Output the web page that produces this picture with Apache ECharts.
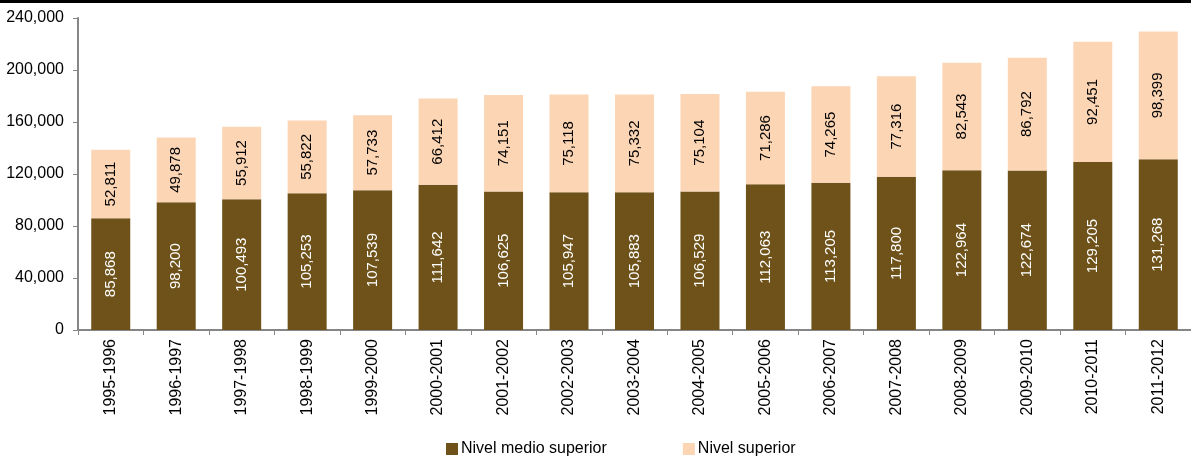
<!DOCTYPE html>
<html><head><meta charset="utf-8">
<script src="https://cdn.jsdelivr.net/npm/echarts@6/dist/echarts.min.js"></script>
<style>html,body{margin:0;padding:0;background:#fff}#c{width:1191px;height:460px}</style>
</head><body><div id="c"></div>
<script>
const categories = ['1995-1996','1996-1997','1997-1998','1998-1999','1999-2000','2000-2001','2001-2002','2002-2003','2003-2004','2004-2005','2005-2006','2006-2007','2007-2008','2008-2009','2009-2010','2010-2011','2011-2012'];
const medioSuperior = [85868,98200,100493,105253,107539,111642,106625,105947,105883,106529,112063,113205,117800,122964,122674,129205,131268];
const superior = [52811,49878,55912,55822,57733,66412,74151,75118,75332,75104,71286,74265,77316,82543,86792,92451,98399];
const seriesNames = ['Nivel medio superior','Nivel superior'];

const fmt = v => v.toLocaleString('en-US');
const font = 'Liberation Sans, Arial, sans-serif';
const chart = echarts.init(document.getElementById('c'), null, {renderer:'canvas'});
chart.setOption({
  animation:false,
  backgroundColor:'#fff',
  graphic:[{type:'rect',left:0,top:0,shape:{width:1191,height:3},style:{fill:'#000'}}],
  grid:{left:78,top:18,width:1122,height:312,containLabel:false},
  legend:{top:436,left:441,itemWidth:12,itemHeight:12,itemGap:76,icon:'rect',
    textStyle:{fontFamily:font,fontSize:16,color:'#000',padding:[0,0,0,-2]},data:seriesNames},
  xAxis:{type:'category',data:categories,
    axisLine:{lineStyle:{color:'#868686',width:2}},
    axisTick:{show:true,length:5,lineStyle:{color:'#868686'}},
    axisLabel:{rotate:90,fontFamily:font,fontSize:16,color:'#000',margin:9,interval:0}},
  yAxis:{type:'value',min:0,max:240000,interval:40000,
    splitLine:{show:false},
    axisLine:{show:true,lineStyle:{color:'#868686',width:2}},
    axisTick:{show:true,length:5,lineStyle:{color:'#868686'}},
    axisLabel:{fontFamily:font,fontSize:16,color:'#000',margin:14,formatter:v=>fmt(v)}},
  series:[
    {name:seriesNames[0],type:'bar',stack:'t',data:medioSuperior,barWidth:39,
      itemStyle:{color:'#6E5219'},
      label:{show:true,position:'inside',rotate:90,color:'#fff',fontFamily:font,fontSize:15,formatter:p=>fmt(p.value)}},
    {name:seriesNames[1],type:'bar',stack:'t',data:superior,barWidth:39,
      itemStyle:{color:'#FCD5B5'},
      label:{show:true,position:'inside',rotate:90,color:'#000',fontFamily:font,fontSize:15,formatter:p=>fmt(p.value)}}
  ]
});
</script></body></html>
